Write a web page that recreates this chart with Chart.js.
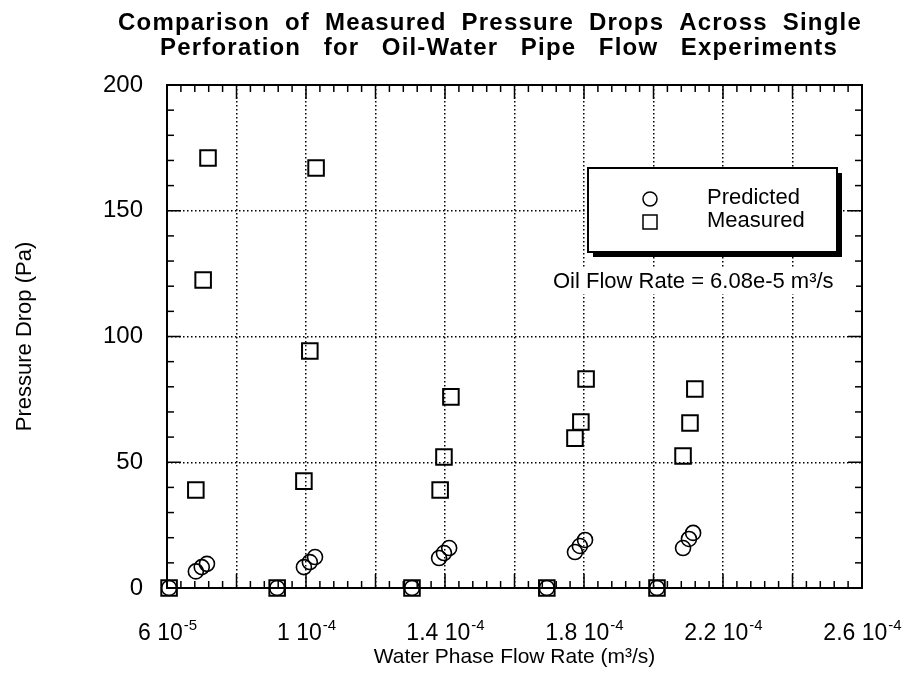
<!DOCTYPE html>
<html>
<head>
<meta charset="utf-8">
<script src="https://cdn.jsdelivr.net/npm/chart.js@4.4.0/dist/chart.umd.min.js"></script>
<style>
  html, body { margin: 0; padding: 0; background: #fff; }
  #wrap { width: 910px; height: 673px; position: relative; }
</style>
</head>
<body>
<div id="wrap"><canvas id="dropChart"></canvas></div>
<script>
var titleLines = ["Comparison of Measured Pressure Drops Across Single",
                  "Perforation for Oil-Water Pipe Flow Experiments"];
var seriesNames = ["Predicted", "Measured"];
var oilNote = "Oil Flow Rate = 6.08e-5 m\u00b3/s";
var xTitle = "Water Phase Flow Rate (m\u00b3/s)";
var yTitle = "Pressure Drop (Pa)";

// water phase flow rate (m3/s) vs pressure drop (Pa)
var predictedFlow = [6.06e-5, 6.83e-5, 7.00e-5, 7.15e-5,
                     9.17e-5, 9.94e-5, 1.011e-4, 1.026e-4,
                     1.305e-4, 1.383e-4, 1.397e-4, 1.412e-4,
                     1.693e-4, 1.774e-4, 1.788e-4, 1.803e-4,
                     2.010e-4, 2.085e-4, 2.102e-4, 2.114e-4];
var predictedDrop = [0, 6.6, 8.3, 9.6,
                     0, 8.3, 10.3, 12.3,
                     0, 11.9, 13.9, 15.9,
                     0, 14.3, 16.7, 19.1,
                     0, 15.9, 19.5, 21.9];
var measuredFlow = [6.06e-5, 6.83e-5, 7.04e-5, 7.18e-5,
                    9.17e-5, 9.94e-5, 1.011e-4, 1.029e-4,
                    1.305e-4, 1.386e-4, 1.397e-4, 1.417e-4,
                    1.693e-4, 1.774e-4, 1.791e-4, 1.806e-4,
                    2.010e-4, 2.085e-4, 2.105e-4, 2.119e-4];
var measuredDrop = [0, 39, 122.5, 171,
                    0, 42.5, 94.2, 167,
                    0, 39, 52.1, 76,
                    0, 59.6, 66, 83.1,
                    0, 52.5, 65.6, 79.1];

var flowLabels = [6e-5, 1e-4, 1.4e-4, 1.8e-4, 2.2e-4, 2.6e-4];
var flowMin = 6e-5, flowMax = 2.6e-4, flowStep = 2e-5;
var dropMin = 0, dropMax = 200, dropStep = 50;

var FONT = '"Liberation Sans", Arial, Helvetica, sans-serif';

function toPoints(xs, ys) {
    return xs.map(function (x, i) { return { x: x, y: ys[i] }; });
}

function segment(ctx, x1, y1, x2, y2) {
    ctx.beginPath();
    ctx.moveTo(x1, y1);
    ctx.lineTo(x2, y2);
    ctx.stroke();
}

// frame, inward ticks, tick labels with exponents, title, legend, note
var paperPlugin = {
    id: 'paper',
    afterDraw: function (chart) {
        var ctx = chart.ctx, a = chart.chartArea;
        var xs = chart.scales.x, ys = chart.scales.y;
        ctx.save();
        ctx.strokeStyle = '#000';
        ctx.fillStyle = '#000';

        // inward ticks on all four sides
        ctx.lineWidth = 1.5;
        var nx = Math.round((flowMax - flowMin) / (flowStep / 5));
        for (var i = 0; i <= nx; i++) {
            var px = xs.getPixelForValue(flowMin + i * (flowMax - flowMin) / nx);
            var len = i % 5 === 0 ? 14 : 7;
            segment(ctx, px, a.bottom, px, a.bottom - len);
            segment(ctx, px, a.top, px, a.top + len);
        }
        var ny = Math.round((dropMax - dropMin) / (dropStep / 5));
        for (var j = 0; j <= ny; j++) {
            var py = ys.getPixelForValue(dropMin + j * (dropMax - dropMin) / ny);
            var ylen = j % 5 === 0 ? 14 : 7;
            segment(ctx, a.left, py, a.left + ylen, py);
            segment(ctx, a.right, py, a.right - ylen, py);
        }

        // plot frame
        ctx.lineWidth = 2;
        ctx.strokeRect(a.left, a.top, a.right - a.left, a.bottom - a.top);

        // x tick labels, e.g. "1.4 10^-4"
        ctx.textBaseline = 'alphabetic';
        ctx.textAlign = 'left';
        flowLabels.forEach(function (v) {
            var ex = Math.floor(Math.log10(v) + 1e-9);
            var mant = Math.round(v / Math.pow(10, ex) * 100) / 100;
            var base = mant + ' 10';
            var sup = String(ex);
            ctx.font = '23px ' + FONT;
            var wb = ctx.measureText(base).width;
            ctx.font = '15px ' + FONT;
            var ws = ctx.measureText(sup).width;
            var x0 = xs.getPixelForValue(v) - (wb + ws) / 2;
            ctx.font = '23px ' + FONT;
            ctx.fillText(base, x0, 640);
            ctx.font = '15px ' + FONT;
            ctx.fillText(sup, x0 + wb + 1, 630);
        });

        // two-line bold title, words spread out to the full width
        var titleSpec = [{ cx: 490, y: 30, w: 744 }, { cx: 499, y: 55, w: 678 }];
        ctx.font = 'bold 24px ' + FONT;
        titleLines.forEach(function (t, k) {
            var s = titleSpec[k];
            var gaps = t.split(' ').length - 1;
            ctx.letterSpacing = '1.2px';
            ctx.wordSpacing = '0px';
            var nat = ctx.measureText(t).width;
            ctx.wordSpacing = Math.max(0, (s.w - nat) / gaps).toFixed(2) + 'px';
            ctx.fillText(t, s.cx - s.w / 2, s.y);
        });
        ctx.letterSpacing = '0px';
        ctx.wordSpacing = '0px';

        // legend box with drop shadow
        var bx = 588, by = 168, bw = 249, bh = 84;
        ctx.fillRect(bx + 5, by + 5, bw, bh);
        ctx.fillStyle = '#fff';
        ctx.fillRect(bx, by, bw, bh);
        ctx.fillStyle = '#000';
        ctx.lineWidth = 2;
        ctx.strokeRect(bx, by, bw, bh);
        ctx.lineWidth = 1.5;
        ctx.beginPath();
        ctx.arc(650, 199, 7, 0, Math.PI * 2);
        ctx.stroke();
        ctx.strokeRect(643, 215, 14, 14);
        ctx.font = '22px ' + FONT;
        ctx.textBaseline = 'middle';
        ctx.fillText(chart.data.datasets[0].label, 707, 198);
        ctx.fillText(chart.data.datasets[1].label, 707, 221);

        // oil rate note
        ctx.fillStyle = '#fff';
        ctx.fillRect(550, 268, 306, 26);
        ctx.fillStyle = '#000';
        ctx.fillText(oilNote, 553, 282);

        ctx.restore();
    }
};

Chart.defaults.font.family = FONT;
Chart.defaults.color = '#000';

var ctxDrop = document.getElementById('dropChart');
var dropChart = new Chart(ctxDrop, {
    type: 'scatter',
    data: {
        datasets: [{
            label: seriesNames[0],
            data: toPoints(predictedFlow, predictedDrop),
            pointStyle: 'circle',
            pointRadius: 7.5,
            borderColor: '#000',
            backgroundColor: 'rgba(0,0,0,0)',
            borderWidth: 1.6,
            clip: false
        }, {
            label: seriesNames[1],
            data: toPoints(measuredFlow, measuredDrop),
            pointStyle: 'rect',
            pointRadius: 11,
            borderColor: '#000',
            backgroundColor: 'rgba(0,0,0,0)',
            borderWidth: 2,
            clip: false
        }]
    },
    options: {
        responsive: true,
        maintainAspectRatio: false,
        animation: false,
        layout: { padding: { left: 0, right: 48, top: 85, bottom: 0 } },
        plugins: {
            legend: { display: false },
            tooltip: { enabled: false }
        },
        scales: {
            x: {
                type: 'linear',
                min: flowMin,
                max: flowMax,
                ticks: { stepSize: flowStep, display: false },
                grid: {
                    drawTicks: false,
                    color: '#000',
                    lineWidth: 1.5
                },
                border: { display: false, dash: [1.5, 2.5] },
                title: {
                    display: true,
                    text: xTitle,
                    font: { size: 21 },
                    padding: { top: 0, bottom: 3 }
                },
                afterFit: function (scale) { scale.height = 85; }
            },
            y: {
                min: dropMin,
                max: dropMax,
                ticks: { stepSize: dropStep, font: { size: 24 }, padding: 24 },
                grid: {
                    drawTicks: false,
                    color: '#000',
                    lineWidth: 1.5
                },
                border: { display: false, dash: [1.5, 2.5] },
                title: {
                    display: true,
                    text: yTitle,
                    font: { size: 22 },
                    padding: { top: 12, bottom: 0 }
                },
                afterFit: function (scale) { scale.width = 167; }
            }
        }
    },
    plugins: [paperPlugin]
});
</script>
</body>
</html>
